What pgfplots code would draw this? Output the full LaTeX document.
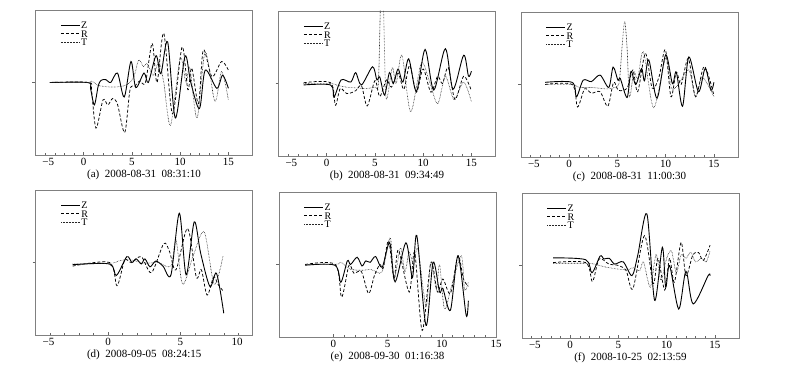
\documentclass[border=0pt]{standalone}
\usepackage{fontspec}
\setmainfont{Liberation Serif}
\usepackage{pgfplots}
\pgfplotsset{compat=1.18}
\pgfplotsset{
 wave/.style={
  scale only axis, width=217pt, height=145pt,
  ymin=-1, ymax=1, xmin=-5, xmax=17.5,
  ytick={0}, yticklabels={},
  xtick={-5,0,5,10,15},
  xticklabels={\rlap{\hspace{7pt}−5},0,5,10,15},
  xtick pos=bottom, ytick pos=left, tick align=inside,
  major tick length=3pt, minor tick length=2pt,
  minor x tick num=4,
  ytick style={xshift=-3pt},
  axis line style={black!50, line width=0.6pt},
  tick style={black!60, line width=0.5pt},
  every tick label/.append style={font=\fontsize{11}{11}\selectfont},
  xlabel style={at={(axis description cs:0.5,0)}, anchor=north, yshift=-15pt, inner sep=0pt, font=\fontsize{11}{12}\selectfont},
  legend style={at={(0.1,0.94)}, anchor=north west, draw=none, fill=none, font=\fontsize{10}{10}\selectfont, nodes={inner sep=0.8pt, text height=7pt, text depth=0pt}, row sep=0pt},
  legend cell align=left,
  legend image code/.code={\draw[##1] (0pt,0pt) -- (19pt,0pt);},
 },
 zs/.style={black, line width=0.9pt, smooth, tension=0.5, mark=none},
 rs/.style={black, line width=0.75pt, dash pattern=on 3pt off 2pt, smooth, tension=0.5, mark=none},
 ts/.style={black!85, line width=0.6pt, dash pattern=on 0.6pt off 0.9pt, smooth, tension=0.5, mark=none},
}
\begin{document}
\begin{tikzpicture}
\useasboundingbox (0,0) rectangle (800pt,374pt);
% (a)
\begin{axis}[wave, at={(35.5pt,219pt)}, anchor=south west, xlabel={(a)\ \ 2008-08-31\ \ 08:31:10}]
\addplot[zs] coordinates {(-3.5,0) (0.4,0) (0.7,-0.08) (1.1,-0.31) (1.5,-0.05) (1.8,0.03) (2.3,0.04) (2.8,0.0) (3.5,0.13) (4.2,-0.2) (4.9,0.29) (5.4,-0.07) (6.25,0.13) (6.7,0.0) (7.5,0.37) (8.0,0.12) (8.7,0.56) (9.5,-0.49) (10.5,0.36) (11.1,0.0) (12.0,-0.36) (12.6,0.17) (13.8,-0.08) (14.4,0.1) (15,-0.08)};
\addplot[rs] coordinates {(-3.5,0) (0.5,0) (0.8,-0.1) (1.27,-0.63) (2.0,-0.24) (2.5,-0.31) (3.0,-0.22) (3.5,-0.3) (4.25,-0.69) (4.8,-0.1) (5.3,-0.05) (5.8,0.02) (6.4,0.0) (7.1,0.54) (7.6,0.0) (8.3,0.68) (9.2,-0.43) (10.2,0.49) (10.8,-0.1) (11.2,0.2) (11.9,-0.29) (12.4,0.45) (13.3,0.08) (14.3,0.29) (15,0.17)};
\addplot[ts] coordinates {(-3.5,0) (0.4,0) (0.8,0.02) (1.5,-0.04) (2.5,-0.06) (3.5,-0.06) (4.5,-0.03) (5.2,0.08) (5.7,0.31) (6.2,0.22) (6.6,0.26) (7.2,0.1) (7.8,0.28) (8.3,0.0) (9.0,-0.59) (10.0,0.33) (10.6,0.0) (11.0,0.2) (11.75,-0.49) (12.6,0.42) (13.6,-0.26) (14.3,0.15) (15,-0.24)};
\legend{Z,R,T}
\end{axis}
% (b)
\begin{axis}[wave, at={(278.5pt,218pt)}, anchor=south west, xlabel={(b)\ \ 2008-08-31\ \ 09:34:49}]
\addplot[zs] coordinates {(-2.4,-0.02) (0.4,-0.02) (0.75,-0.19) (1.5,0.05) (2.5,0.02) (3.0,0.15) (3.6,-0.02) (4.75,0.23) (5.2,0.05) (5.5,0.09) (6.0,-0.16) (6.5,0.15) (6.9,0.0) (7.4,0.2) (7.9,0.02) (8.5,0.34) (9.3,-0.11) (10.2,0.47) (11.1,-0.09) (12.3,0.48) (13.1,-0.08) (14.2,0.39) (14.7,0.1) (15,0.17)};
\addplot[rs] coordinates {(-2.4,0.01) (0.4,0.01) (0.9,-0.30) (1.4,-0.07) (2.1,-0.14) (3.0,-0.1) (3.6,-0.03) (4.2,-0.31) (5.0,0.04) (5.5,-0.18) (6.2,0.05) (6.7,-0.05) (7.4,0.14) (8.0,-0.08) (8.6,0.25) (9.3,-0.12) (10.0,0.2) (10.8,-0.12) (11.5,0.1) (12.0,0.0) (12.6,0.22) (13.3,-0.22) (14.2,0.1) (15,-0.1)};
\addplot[ts] coordinates {(-2.4,0.0) (0.4,0.0) (1.0,-0.02) (2,-0.05) (3,-0.06) (4,-0.07) (5.0,-0.05) (5.35,0.0) (5.55,1.0) (5.72,2.0) (5.9,1.0) (6.1,-0.1) (6.3,-0.18) (6.8,0.22) (7.2,0.0) (7.8,0.39) (8.7,-0.39) (9.8,0.28) (10.6,0.05) (11.5,-0.28) (12.3,0.1) (13.2,-0.22) (14.2,0.02) (15,-0.25)};
\legend{Z,R,T}
\end{axis}
% (c)
\begin{axis}[wave, at={(521pt,217pt)}, anchor=south west, xlabel={(c)\ \ 2008-08-31\ \ 11:00:30}]
\addplot[zs] coordinates {(-2.5,0.03) (0.3,0.03) (0.75,-0.17) (1.45,0.06) (2.3,0.04) (3.2,0.13) (4.1,-0.04) (4.55,0.24) (5.05,0.06) (5.3,0.08) (6.0,-0.18) (6.4,0.18) (6.9,0.0) (7.5,0.22) (7.8,0.05) (8.25,0.34) (9.1,-0.19) (10.0,0.41) (10.7,0.01) (11.1,0.17) (11.75,-0.3) (12.4,0.38) (13.4,-0.1) (14.1,0.22) (14.7,-0.08) (15,0.03)};
\addplot[rs] coordinates {(-2.5,0.0) (0.3,0.0) (0.86,-0.31) (1.6,-0.06) (2.3,-0.12) (3.2,-0.1) (4.0,-0.3) (4.6,0.03) (5.1,-0.08) (6.0,-0.05) (6.6,0.2) (7.1,-0.1) (7.9,0.43) (8.6,-0.05) (9.3,0.1) (9.97,0.48) (10.55,-0.17) (11.1,0.17) (11.6,0.0) (12.35,0.36) (13.1,-0.17) (14.0,0.25) (15,-0.15)};
\addplot[ts] coordinates {(-2.5,0.0) (0.3,0.0) (1.0,-0.04) (2,-0.04) (3,-0.05) (4,-0.06) (4.9,-0.03) (5.2,0.05) (5.5,0.55) (5.75,0.87) (6.0,0.5) (6.25,-0.17) (6.7,0.18) (7.1,0.08) (7.7,0.45) (8.75,-0.32) (10.0,0.36) (10.6,-0.05) (11.3,0.0) (12.4,0.2) (13.1,-0.17) (13.8,0.1) (15,-0.17)};
\legend{Z,R,T}
\end{axis}
% (d)
\begin{axis}[wave, at={(35.7pt,39pt)}, anchor=south west, xmax=10,
  xticklabels={\rlap{\hspace{7pt}−5},0,5,\llap{10\hspace{10pt}}},
  xlabel={(d)\ \ 2008-09-05\ \ 08:24:15}]
\addplot[zs] coordinates {(-2.45,-0.03) (0.1,-0.02) (0.57,-0.18) (1.3,0.08) (1.65,0.0) (1.95,0.05) (2.3,-0.02) (2.55,0.05) (2.9,-0.06) (3.3,0.02) (3.8,-0.05) (4.35,-0.17) (4.93,0.68) (5.4,-0.17) (5.96,0.56) (6.4,0.13) (7.04,-0.33) (7.5,-0.15) (8.0,-0.7)};
\addplot[rs] coordinates {(-2.45,-0.05) (0.1,0.0) (0.62,-0.32) (1.15,0.03) (1.6,0.0) (2.3,0.08) (3.0,-0.14) (3.85,0.26) (4.25,0.15) (4.7,-0.1) (5.5,0.47) (6.1,-0.2) (6.45,-0.1) (6.85,-0.45) (7.3,-0.2) (7.6,-0.3) (7.98,-0.4)};
\addplot[ts] coordinates {(-2.45,-0.02) (0.2,-0.01) (0.7,0.02) (1.5,0.04) (2.5,-0.01) (3.5,0.0) (4.0,-0.05) (4.4,-0.03) (4.7,0.31) (5.16,-0.3) (5.9,0.1) (6.65,0.42) (7.34,-0.3) (7.96,0.1)};
\legend{Z,R,T}
\end{axis}
% (e)
\begin{axis}[wave, at={(279pt,37pt)}, anchor=south west, xmax=15,
  xtick={0,5,10,15}, xticklabels={0,5,10,15},
  xlabel={(e)\ \ 2008-09-30\ \ 01:16:38}]
\addplot[zs] coordinates {(-2.6,-0.01) (0.15,-0.01) (0.7,-0.245) (1.3,0.05) (1.6,0.0) (2.2,0.1) (2.65,-0.02) (3.0,0.05) (3.4,0.03) (3.9,0.11) (4.5,-0.04) (5.2,0.3) (5.7,-0.24) (6.7,0.3) (7.3,-0.18) (7.7,0.4) (8.55,-0.84) (9.2,0.03) (9.8,-0.38) (10.1,-0.33) (10.8,-0.63) (11.5,0.12) (12.25,-0.7) (12.45,-0.5)};
\addplot[rs] coordinates {(-2.6,0.0) (0.2,0.0) (0.77,-0.45) (1.45,-0.01) (1.9,-0.12) (2.6,-0.1) (3.26,-0.4) (3.8,-0.15) (4.3,0.0) (4.6,-0.05) (5.1,0.33) (5.6,-0.2) (6.0,0.2) (7.0,-0.38) (7.5,0.17) (8.2,-0.91) (9.0,0.03) (9.6,-0.38) (10.1,-0.2) (10.8,-0.4) (11.5,0.12) (12.0,-0.2) (12.45,-0.3)};
\addplot[ts] coordinates {(-2.6,0.0) (0.2,0.0) (0.7,0.03) (1.5,-0.06) (2.5,-0.08) (3.5,-0.07) (4.5,-0.1) (5.25,0.37) (5.6,-0.2) (6.2,0.23) (6.6,-0.1) (7.0,0.17) (7.4,0.0) (7.8,0.21) (8.55,-0.57) (9.0,0.03) (9.5,-0.34) (9.8,0.0) (10.25,-0.61) (10.9,-0.3) (11.8,0.12) (12.1,-0.35) (12.45,-0.25)};
\legend{Z,R,T}
\end{axis}
% (f)
\begin{axis}[wave, at={(522pt,36pt)}, anchor=south west, xlabel={(f)\ \ 2008-10-25\ \ 02:13:59}]
\addplot[zs] coordinates {(-1.77,0.105) (1.6,0.08) (2.25,-0.1) (3.1,0.13) (3.5,0.09) (4.05,0.1) (4.6,0.02) (5.5,0.05) (6.4,-0.14) (7.0,0.14) (7.95,0.71) (8.75,-0.48) (9.55,0.25) (9.9,-0.3) (10.3,0.0) (11.25,-0.6) (12.0,-0.08) (12.75,-0.53) (14.3,-0.14) (14.5,-0.14)};
\addplot[rs] coordinates {(-1.77,0.04) (1.6,0.04) (2.3,-0.22) (3.0,0.09) (4.0,0.02) (5.0,0.0) (5.8,-0.07) (6.5,-0.32) (7.7,0.41) (8.6,-0.25) (9.1,0.1) (9.8,-0.34) (10.3,0.1) (10.8,-0.23) (11.5,0.32) (12.0,-0.14) (12.7,0.14) (13.3,0.18) (13.8,0.07) (14.5,0.28)};
\addplot[ts] coordinates {(-1.77,0.03) (1.6,0.03) (2.5,0.02) (3.0,0.0) (4.0,-0.03) (5.0,-0.05) (6.0,-0.06) (6.5,-0.03) (7.2,-0.07) (7.6,0.05) (8.3,-0.3) (8.9,0.15) (9.4,-0.2) (10.0,0.1) (10.5,0.2) (11.0,-0.1) (11.5,0.15) (12.0,0.1) (12.5,0.18) (13.0,0.05) (13.6,0.1) (14.1,0.05) (14.5,0.2)};
\legend{Z,R,T}
\end{axis}
\end{tikzpicture}
\end{document}
